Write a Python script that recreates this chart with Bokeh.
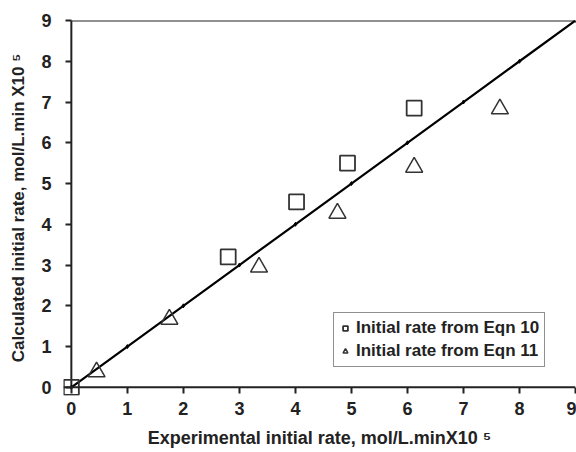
from bokeh.plotting import figure
from bokeh.models import Range1d, Legend, LegendItem, FixedTicker, Span
from bokeh.embed import file_html
from bokeh.resources import INLINE

# Data
eqn10_x = [0.0, 2.8, 4.02, 4.93, 6.12]
eqn10_y = [0.0, 3.2, 4.55, 5.5, 6.85]
eqn11_x = [0.45, 1.75, 3.35, 4.75, 6.12, 7.65]
eqn11_y = [0.38, 1.67, 2.95, 4.27, 5.4, 6.83]
fit_x = [0, 1, 2, 3, 4, 5, 6, 7, 8, 9]
fit_y = [0, 1, 2, 3, 4, 5, 6, 7, 8, 9]
ticks = [0, 1, 2, 3, 4, 5, 6, 7, 8, 9]

FONT = "Liberation Sans"
INK = "#222222"

p = figure(width=576, height=452, output_backend="svg", toolbar_location=None,
           x_range=Range1d(-0.14, 9.0), y_range=Range1d(-0.2, 9.0),
           min_border_left=63, min_border_right=1, min_border_top=20, min_border_bottom=57,
           x_axis_label="Experimental initial rate, mol/L.minX10 \u2075",
           y_axis_label="Calculated initial rate, mol/L.min X10 \u2075")
p.frame_width = 512
p.frame_height = 375
p.outline_line_color = None
p.xgrid.visible = False
p.ygrid.visible = False
p.background_fill_color = "white"
p.border_fill_color = "white"

for ax in (p.xaxis[0], p.yaxis[0]):
    ax.ticker = FixedTicker(ticks=ticks)
    ax.minor_tick_line_color = None
    ax.major_tick_out = -2
    ax.major_tick_in = 8
    ax.axis_line_color = None
    ax.major_tick_line_width = 2
    ax.major_tick_line_color = INK
    ax.major_label_text_font = FONT
    ax.major_label_text_font_style = "bold"
    ax.major_label_text_font_size = "18px"
    ax.major_label_text_color = INK
    ax.axis_label_text_font = FONT
    ax.axis_label_text_font_style = "bold"
    ax.axis_label_text_color = INK
p.xaxis[0].axis_label_text_font_size = "18px"
p.yaxis[0].axis_label_text_font_size = "17px"
p.yaxis[0].major_label_standoff = 12
p.xaxis[0].major_label_standoff = 6
p.yaxis[0].axis_label_standoff = 10
p.xaxis[0].axis_label_standoff = 10

# axis lines and top border
p.add_layout(Span(location=0, dimension="width", line_color=INK, line_width=2))
p.segment(x0=[0], y0=[0], x1=[0], y1=[9], line_color=INK, line_width=2)
p.segment(x0=[0], y0=[9], x1=[9], y1=[9], line_color=INK, line_width=2)

# fit line
p.line(fit_x, fit_y, line_color="black", line_width=2.2)
p.scatter(fit_x, fit_y, marker="diamond", size=4, color="black")

r10 = p.scatter(eqn10_x, eqn10_y, marker="square", size=15, fill_color=None,
                line_color="#333333", line_width=1.8)
r11 = p.scatter(eqn11_x, eqn11_y, marker="triangle", size=17, fill_color=None,
                line_color="#333333", line_width=1.5)

legend = Legend(items=[LegendItem(label="Initial rate from Eqn 10", renderers=[r10]),
                       LegendItem(label="Initial rate from Eqn 11", renderers=[r11])],
                location=(270, 28), label_text_font=FONT, label_text_font_style="bold",
                label_text_font_size="17px", label_text_color=INK,
                border_line_color=INK, border_line_width=1.5,
                glyph_width=12, glyph_height=20, label_standoff=5,
                padding=5, spacing=3, margin=0, background_fill_alpha=1)
p.add_layout(legend, "center")

open("out.html", "w").write(file_html(p, INLINE))
